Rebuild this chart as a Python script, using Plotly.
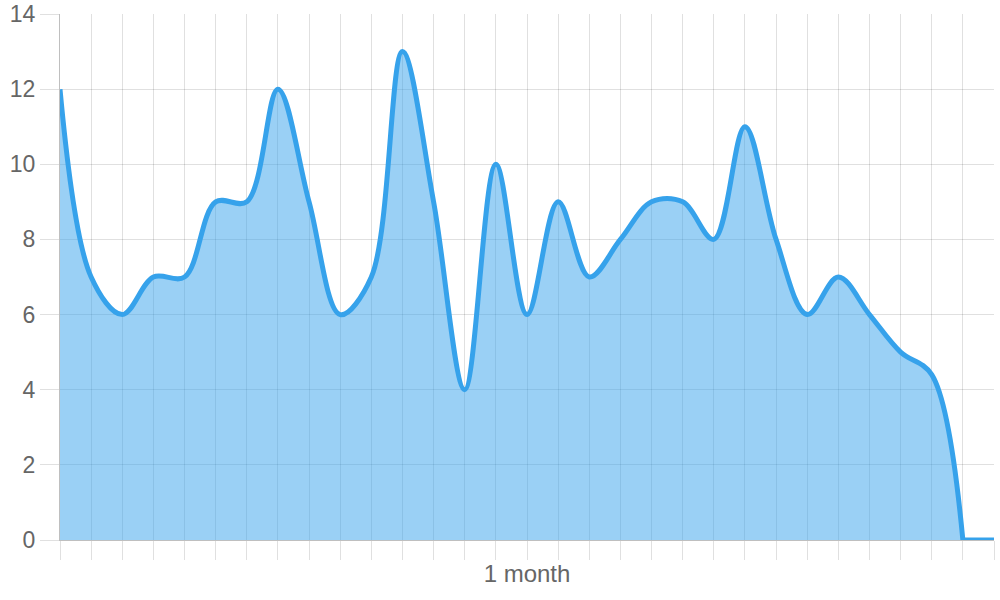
import plotly.graph_objects as go

# one point per day over the month
days = list(range(31))
values = [12, 7, 6, 7, 7, 9, 9, 12, 9, 6, 7, 13, 9, 4, 10, 6,
          9, 7, 8, 9, 9, 8, 11, 8, 6, 7, 6, 5, 4.4, 0, 0]
y_ticks = [0, 2, 4, 6, 8, 10, 12, 14]
x_title = "1 month"

LINE = "#36A2EB"
FILL = "rgba(54, 162, 235, 0.5)"
GRID = "rgba(0, 0, 0, 0.12)"
AXIS = "rgba(0, 0, 0, 0.25)"
TEXT = "#666666"

# the curve stops being smoothed once it reaches zero (no overshoot below the axis)
flat_from = values.index(0)

fig = go.Figure()
fig.add_trace(
    go.Scatter(
        x=days[: flat_from + 1],
        y=values[: flat_from + 1],
        mode="lines",
        line=dict(color=LINE, width=5, shape="spline", smoothing=1.0),
        fill="tozeroy",
        fillcolor=FILL,
        hoverinfo="skip",
    )
)
fig.add_trace(
    go.Scatter(
        x=days[flat_from:],
        y=values[flat_from:],
        mode="lines",
        line=dict(color=LINE, width=5),
        hoverinfo="skip",
    )
)

fig.update_layout(
    width=1000,
    height=600,
    margin=dict(l=60, r=6, t=14, b=60),
    paper_bgcolor="white",
    plot_bgcolor="white",
    showlegend=False,
    font=dict(family="Liberation Sans, Arial, sans-serif", size=24, color=TEXT),
)

fig.update_xaxes(
    range=[0, 30],
    tickmode="array",
    tickvals=days,
    showticklabels=False,
    ticks="outside",
    ticklen=19,
    tickcolor=GRID,
    tickwidth=1,
    showgrid=True,
    gridcolor=GRID,
    gridwidth=1,
    showline=True,
    linecolor=AXIS,
    linewidth=1,
    zeroline=False,
    title=dict(text=x_title, standoff=6, font=dict(size=24, color=TEXT)),
    automargin=False,
)
fig.update_yaxes(
    range=[0, 14],
    tickmode="array",
    tickvals=y_ticks,
    ticks="outside",
    ticklen=19,
    tickcolor=GRID,
    tickwidth=1,
    showgrid=True,
    gridcolor=GRID,
    gridwidth=1,
    showline=True,
    linecolor=AXIS,
    linewidth=1,
    zeroline=False,
    tickfont=dict(size=23, color=TEXT),
    automargin=False,
)

# page body has a default 8px margin; drop it so the 1000x600 figure fills the window
fig.write_html(
    "out.html",
    config={"displayModeBar": False},
    post_script="document.body.style.margin = '0';",
)
